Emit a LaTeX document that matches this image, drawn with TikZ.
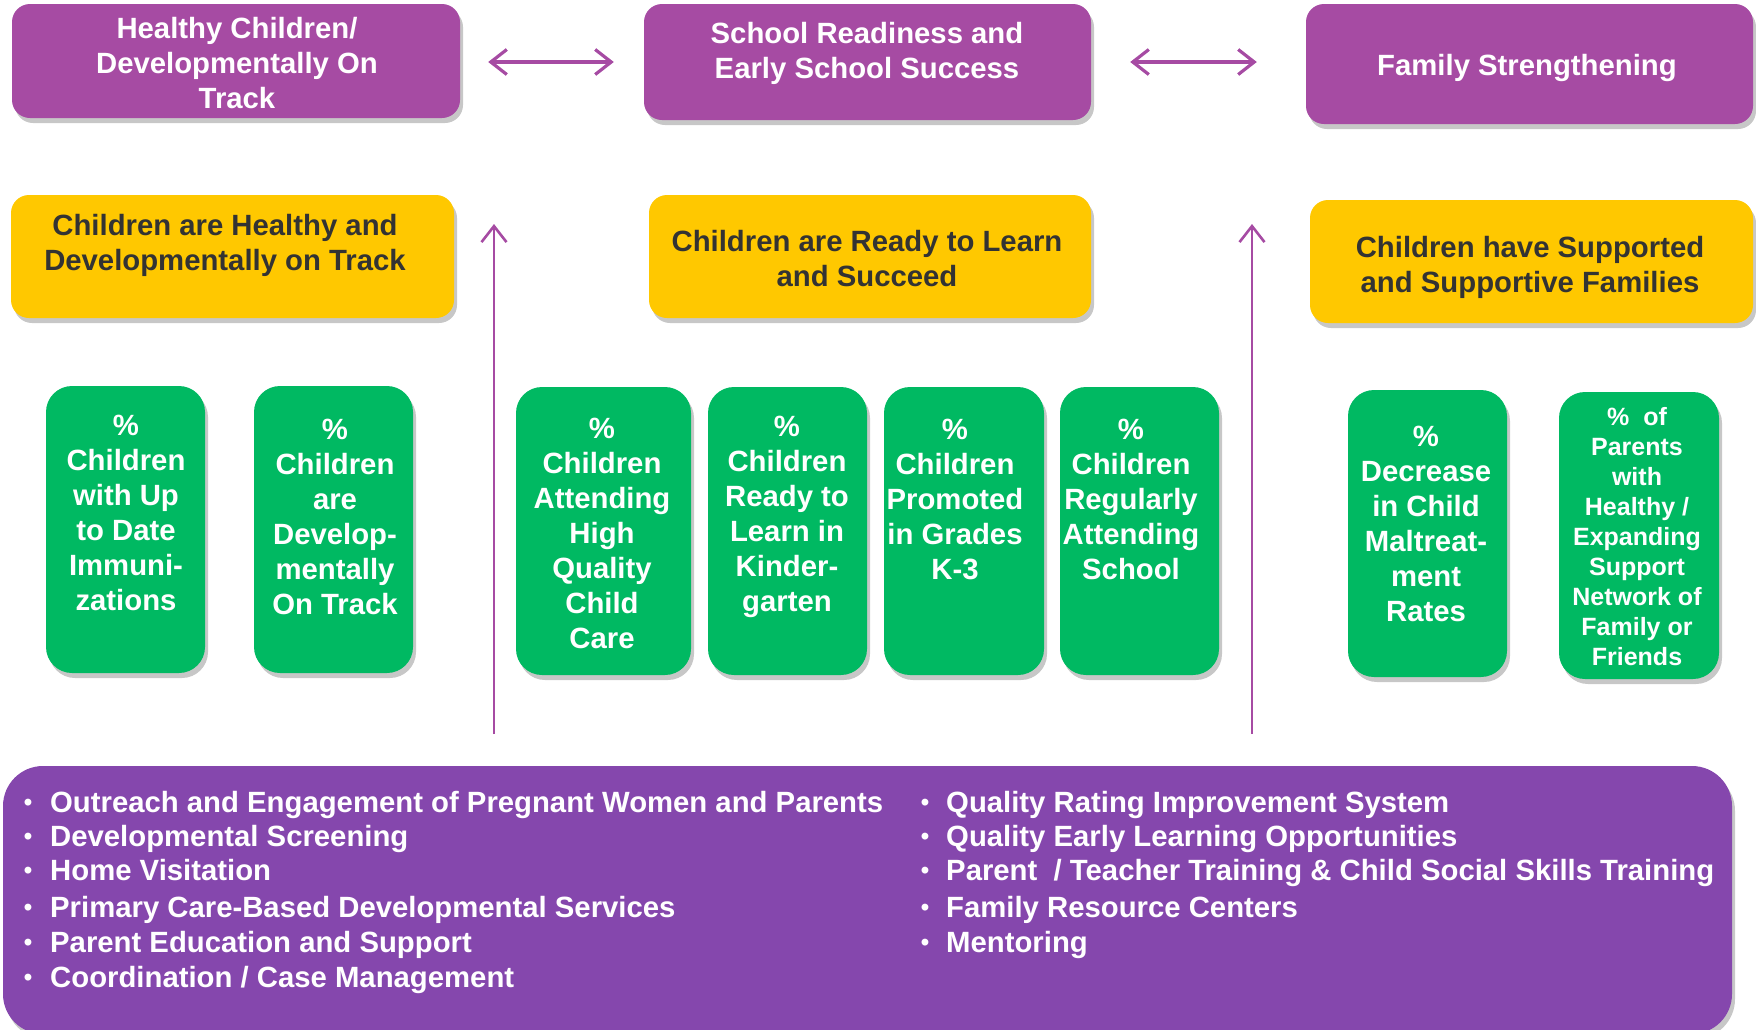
\documentclass[tikz,border=0pt]{standalone}
\usepackage{fontspec}
\setmainfont{Liberation Sans}
\usetikzlibrary{arrows.meta,shadows}
\definecolor{topP}{RGB}{166,75,163}
\definecolor{botP}{RGB}{133,71,173}
\definecolor{ylw}{RGB}{255,200,0}
\definecolor{grn}{RGB}{0,185,98}
\definecolor{dtxt}{RGB}{51,51,51}
\begin{document}
\begin{tikzpicture}[x=1pt,y=-1pt,
  shd/.style={drop shadow={shadow xshift=3pt,shadow yshift=-5pt,opacity=0.22,fill=black}},
  pbox/.style={fill=topP, rounded corners=18pt, shd, inner sep=0pt},
  ybox/.style={fill=ylw, rounded corners=18pt, shd, inner sep=0pt},
  gbox/.style={fill=grn, rounded corners=26pt, shd, inner sep=0pt},
  bbox/.style={fill=botP, rounded corners=40pt, shd, inner sep=0pt},
  wtxt/.style={text=white, font=\fontsize{29.3}{35}\selectfont\bfseries, align=center, inner sep=0pt},
  dtext/.style={text=dtxt, font=\fontsize{29.3}{35}\selectfont\bfseries, align=center, inner sep=0pt},
  stxt/.style={text=white, font=\fontsize{25}{30}\selectfont\bfseries, align=center, inner sep=0pt},
  btxt/.style={text=white, font=\fontsize{29.3}{35}\selectfont\bfseries, anchor=base west, inner sep=0pt},
  bul/.style={text=white, font=\fontsize{24}{24}\selectfont\bfseries, anchor=base, inner sep=0pt},
  harr/.style={draw=topP, line width=3.2pt, {Straight Barb[length=16pt,width=25pt]}-{Straight Barb[length=16pt,width=25pt]}},
  varr/.style={draw=topP, line width=2.6pt, -{Straight Barb[length=16pt,width=25pt]}},
]
\useasboundingbox (0,0) rectangle (1756,1029);

% top purple boxes
\node[pbox, minimum width=448pt, minimum height=114pt] (p1) at (236,61) {};
\node[pbox, minimum width=447pt, minimum height=116pt] (p2) at (867.5,62) {};
\node[pbox, minimum width=447pt, minimum height=120pt] (p3) at (1529.5,64) {};
\node[wtxt] (p1t) at (237,63) {Healthy Children/\\Developmentally On\\Track};
\node[wtxt] (p2t) at (867,53) {School Readiness and\\Early School Success};
\node[wtxt] (p3t) at (1527,68) {Family Strengthening};

% yellow boxes
\node[ybox, minimum width=443pt, minimum height=123pt] (y1) at (232.5,256.5) {};
\node[ybox, minimum width=442pt, minimum height=123pt] (y2) at (870,256.5) {};
\node[ybox, minimum width=443pt, minimum height=123pt] (y3) at (1531.5,261.5) {};
\node[dtext] (y1t) at (225,245) {Children are Healthy and\\Developmentally on Track};
\node[dtext] (y2t) at (867,259) {Children are Ready to Learn\\and Succeed};
\node[dtext] (y3t) at (1530,267) {Children have Supported\\and Supportive Families};

% green boxes
\node[gbox, minimum width=159pt, minimum height=287pt] (g1) at (125.5,529.5) {};
\node[gbox, minimum width=159pt, minimum height=287pt] (g2) at (333.5,529.5) {};
\node[gbox, minimum width=175pt, minimum height=288pt] (g3) at (603.5,531) {};
\node[gbox, minimum width=159pt, minimum height=288pt] (g4) at (787.5,531) {};
\node[gbox, minimum width=160pt, minimum height=288pt] (g5) at (964,531) {};
\node[gbox, minimum width=159pt, minimum height=288pt] (g6) at (1139.5,531) {};
\node[gbox, minimum width=159pt, minimum height=287pt] (g7) at (1427.5,533.5) {};
\node[gbox, minimum width=160pt, minimum height=287pt] (g8) at (1639,535.5) {};

\node[wtxt] (g1t) at (126,513) {\%\\Children\\with Up\\to Date\\Immuni-\\zations};
\node[wtxt] (g2t) at (335,517) {\%\\Children\\are\\Develop-\\mentally\\On Track};
\node[wtxt] (g3t) at (602,533) {\%\\Children\\Attending\\High\\Quality\\Child\\Care};
\node[wtxt] (g4t) at (787,517) {\%\\Children\\Ready to\\Learn in\\Kinder-\\garten};
\node[wtxt] (g5t) at (955,499) {\%\\Children\\Promoted\\in Grades\\K-3};
\node[wtxt] (g6t) at (1131,499) {\%\\Children\\Regularly\\Attending\\School};
\node[wtxt] (g7t) at (1426,524) {\%\\Decrease\\in Child\\Maltreat-\\ment\\Rates};
\node[stxt] (g8t) at (1637,537) {\%\ \ of\\Parents\\with\\Healthy /\\Expanding\\Support\\Network of\\Family or\\Friends};

% bottom box
\node[bbox, minimum width=1729pt, minimum height=268pt] (bot) at (867.5,900) {};

\node[bul] (lb1) at (28,810) {•};
\node[bul] (lb2) at (28,844) {•};
\node[bul] (lb3) at (28,878) {•};
\node[bul] (lb4) at (28,915) {•};
\node[bul] (lb5) at (28,950) {•};
\node[bul] (lb6) at (28,985) {•};
\node[btxt] (l1) at (50,812) {Outreach and Engagement of Pregnant Women and Parents};
\node[btxt] (l2) at (50,846) {Developmental Screening};
\node[btxt] (l3) at (50,880) {Home Visitation};
\node[btxt] (l4) at (50,917) {Primary Care-Based Developmental Services};
\node[btxt] (l5) at (50,952) {Parent Education and Support};
\node[btxt] (l6) at (50,987) {Coordination / Case Management};

\node[bul] (rb1) at (925,810) {•};
\node[bul] (rb2) at (925,844) {•};
\node[bul] (rb3) at (925,878) {•};
\node[bul] (rb4) at (925,915) {•};
\node[bul] (rb5) at (925,950) {•};
\node[btxt] (r1) at (946,812) {Quality Rating Improvement System};
\node[btxt] (r2) at (946,846) {Quality Early Learning Opportunities};
\node[btxt] (r3) at (946,880) {Parent\ \ / Teacher Training \& Child Social Skills Training};
\node[btxt] (r4) at (946,917) {Family Resource Centers};
\node[btxt] (r5) at (946,952) {Mentoring};

% arrows
\draw[harr, shorten <=28pt, shorten >=30pt] (p1.east |- 0,62) -- (p2.west |- 0,62);
\draw[harr, shorten <=39pt, shorten >=49pt] (p2.east |- 0,62) -- (p3.west |- 0,62);
\coordinate (a1s) at (494,734);
\coordinate (a1e) at (494,224);
\coordinate (a2s) at (1252,734);
\coordinate (a2e) at (1252,224);
\draw[varr] (a1s) -- (a1e);
\draw[varr] (a2s) -- (a2e);
\end{tikzpicture}
\end{document}
